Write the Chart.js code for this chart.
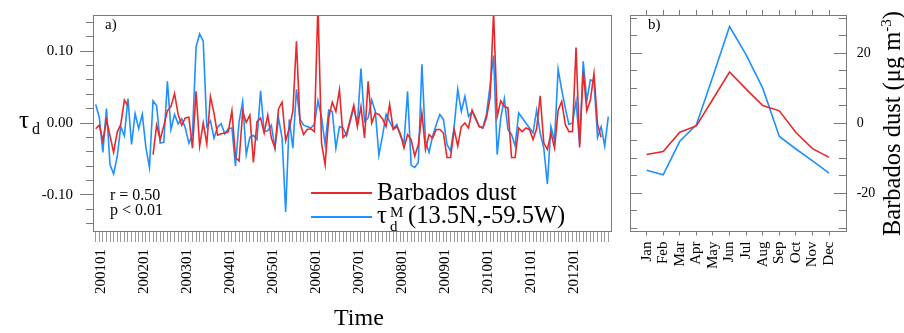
<!DOCTYPE html>
<html>
<head>
<meta charset="utf-8">
<title>Barbados dust vs model dust optical depth</title>
<script src="https://cdn.jsdelivr.net/npm/chart.js@4.4.1/dist/chart.umd.min.js"></script>
<style>
  html, body { margin: 0; padding: 0; background: #fff; }
  #wrap {
    position: relative; width: 904px; height: 333px; overflow: hidden;
    font-family: "Liberation Serif", "Times New Roman", serif; color: #000;
  }
  #wrap canvas { position: absolute; top: 0; }
  .txt { position: absolute; white-space: nowrap; line-height: 1; }
  .swatch { position: absolute; height: 2px; }
</style>
</head>
<body>
<div id="wrap">
  <canvas id="series" width="620" height="333" style="left:0"></canvas>
  <canvas id="clim" width="284" height="333" style="left:620px"></canvas>

  <!-- axis titles -->
  <span class="txt" style="left:19px;top:107px;font-size:25px">τ</span>
  <span class="txt" style="left:32px;top:121px;font-size:16px">d</span>
  <span class="txt" style="left:334px;top:305px;font-size:24px">Time</span>
  <span class="txt" style="left:879px;top:236px;font-size:24.5px;transform-origin:0 0;transform:rotate(-90deg)">Barbados dust (μg m<sup style="font-size:15px;vertical-align:9px">-3</sup>)</span>

  <!-- panel tags and stats -->
  <span class="txt" style="left:105px;top:17px;font-size:15px">a)</span>
  <span class="txt" style="left:648px;top:17px;font-size:15px">b)</span>
  <span class="txt" style="left:110px;top:187px;font-size:16px">r = 0.50</span>
  <span class="txt" style="left:110px;top:202px;font-size:16px">p &lt; 0.01</span>

  <!-- legend -->
  <div class="swatch" style="left:311px;top:192px;width:61px;background:#e8292b"></div>
  <div class="swatch" style="left:311px;top:216px;width:61px;background:#1e90ff"></div>
  <span class="txt" style="left:377px;top:180px;font-size:24.5px">Barbados dust</span>
  <span class="txt" style="left:377px;top:203px;font-size:24.5px">τ</span>
  <span class="txt" style="left:390px;top:205px;font-size:15px">M</span>
  <span class="txt" style="left:390px;top:219px;font-size:15px">d</span>
  <span class="txt" style="left:408px;top:203px;font-size:24.5px">(13.5N,-59.5W)</span>
</div>

<script>
// ── Monthly anomalies 2001-01 .. 2012-12 (index 0 = Jan 2001) ──
const yearTicks = ["200101", "200201", "200301", "200401", "200501", "200601",
                   "200701", "200801", "200901", "201001", "201101", "201201"];

const dustAnom = [
  -0.008, -0.003, -0.025,  0.004, -0.018, -0.041, -0.013, -0.002,  0.032,  0.024,  null,   null,
   null,   null,   null,   null,  -0.044, -0.003, -0.023, -0.004,  0.017,  0.023,  0.041,  0.012,
  -0.003,  0.007,  0.008, -0.035,  0.044, -0.032,  0.000, -0.029,  0.037,  0.014, -0.017, -0.015,
  -0.014, -0.012,  0.017, -0.048, -0.053,  0.016,  0.001,  0.011, -0.055,  0.002,  0.007, -0.014,
   0.011, -0.021, -0.035,  0.020,  0.029, -0.025, -0.007,  0.016,  0.114,  0.000, -0.016, -0.009,
  -0.008, -0.012,  0.165, -0.028, -0.058,  0.007,  0.029,  0.016,  0.046, -0.020, -0.015,  0.005,
   0.025, -0.005,  0.023, -0.021,  0.058,  0.000,  0.014,  0.012,  0.006, -0.005,  0.026, -0.009,
  -0.005, -0.015, -0.035, -0.016, -0.023, -0.046, -0.030,  0.014, -0.037, -0.016, -0.021, -0.009,
  -0.009, -0.014, -0.048, -0.048, -0.009, -0.032, -0.005,  0.000, -0.007,  0.018,  0.007, -0.005,
  -0.007,  0.007,  0.035,  0.155,  0.009,  0.031,  0.023,  0.021, -0.048, -0.048, -0.007, -0.012,
  -0.007, -0.009, -0.023, -0.008,  0.038, -0.028, -0.037, -0.014, -0.035,  0.018,  0.030, -0.002,
  -0.012, -0.012,  0.105, -0.034,  0.072,  0.017,  0.032,  0.069, -0.002, -0.020,  null,   null
];

const modelTau = [
   0.026,  0.008, -0.041,  0.020, -0.058, -0.071, -0.047, -0.005, -0.018,  0.034, -0.030,  0.013,
  -0.008,  0.012, -0.034, -0.062,  0.031,  0.024, -0.028, -0.027,  0.058, -0.009,  0.012, -0.001,
   0.006, -0.007, -0.028, -0.016,  0.106,  0.124,  0.114, -0.005,  0.003, -0.021, -0.006, -0.001,
  -0.015, -0.008, -0.007, -0.060,  0.002,  0.030, -0.044, -0.020, -0.017, -0.023,  0.045, -0.012,
  -0.011, -0.003, -0.035,  0.007, -0.021, -0.124,  0.005, -0.035,  0.047,  0.005, -0.003, -0.005,
  -0.007, -0.002,  0.031,  0.008, -0.030,  0.018,  0.016, -0.035, -0.005, -0.007, -0.018,  0.002,
   0.021, -0.002,  0.076,  0.002,  0.007,  0.032,  0.016, -0.045, -0.018,  0.012,  0.002, -0.008,
  -0.002, -0.018, -0.028,  0.044, -0.059, -0.062, -0.055,  0.082, -0.025, -0.041, -0.018, -0.002,
   0.012,  0.005, -0.030, -0.039, -0.005,  0.047,  0.016,  0.037,  0.009,  0.016,  0.005, -0.005,
  -0.007,  0.012,  0.051,  0.094, -0.044,  0.007,  0.034, -0.009, -0.016, -0.032,  0.014,  0.007,
   0.000, -0.007, -0.014,  0.018, -0.014, -0.035, -0.085, -0.005, -0.025,  0.075,  0.046,  0.021,
  -0.002,  0.000,  0.030, -0.030,  0.086,  0.031,  0.060,  0.058, -0.020, -0.005, -0.032,  0.009
];

// ── Mean annual cycle (µg m-3 scale) ──
const months    = ["Jan", "Feb", "Mar", "Apr", "May", "Jun", "Jul", "Aug", "Sep", "Oct", "Nov", "Dec"];
const dustClim  = [-9.0, -8.1, -2.6, -0.8, 6.9, 14.6, 9.7, 5.0, 3.5, -2.7, -7.3, -9.8];
const modelClim = [-13.5, -14.8, -5.2, -0.5, 13.4, 27.6, 19.5, 10.0, -3.8, -7.4, -10.8, -14.3];

const RED   = "#e8292b";
const BLUE  = "#1e90ff";
const SERIF = "'Liberation Serif', 'Times New Roman', serif";
const FRAME = "#7a7a7a";
const TICK  = "#9a9a9a";

Chart.defaults.font.family = SERIF;
Chart.defaults.color = "#000";

// closed box around the plot area
const framePlugin = {
  id: "frame",
  afterDatasetsDraw(chart) {
    const { ctx, chartArea: a } = chart;
    ctx.save();
    ctx.strokeStyle = FRAME;
    ctx.lineWidth = 1;
    ctx.strokeRect(Math.round(a.left) + 0.5, Math.round(a.top) + 0.5,
                   Math.round(a.right - a.left), Math.round(a.bottom - a.top));
    ctx.restore();
  }
};

// pin an axis box to a fixed size so the plot area lands where it should
function fixed(prop, size) {
  return s => {
    s[prop] = size;
    s.paddingLeft = s.paddingRight = s.paddingTop = s.paddingBottom = 0;
  };
}

const toPoints = arr => arr.map((v, i) => ({ x: i, y: v }));
const line = (data, color) => ({
  data, borderColor: color, borderWidth: 1.6, pointRadius: 0, tension: 0, spanGaps: false
});

// range is nudged off a whole number of steps so ticks land on round values
const TAU_MIN = -0.1505, TAU_MAX = 0.1505;

// ── a) time series ──
new Chart(document.getElementById("series"), {
  type: "line",
  data: { datasets: [line(toPoints(dustAnom), RED), line(toPoints(modelTau), BLUE)] },
  options: {
    responsive: false,
    animation: false,
    events: [],
    layout: { padding: { top: 15, right: 9, left: 0, bottom: 0 } },
    plugins: { legend: { display: false }, tooltip: { enabled: false } },
    scales: {
      x: {
        type: "linear", min: -0.75, max: 143.75,
        border: { display: false },
        grid: { drawOnChartArea: false, tickLength: 11, color: TICK },
        ticks: {
          stepSize: 1, includeBounds: false, autoSkip: false,
          minRotation: 90, maxRotation: 90, padding: 7, labelOffset: 5,
          font: { size: 15 },
          callback: v => (Math.round(v) % 12 === 0 ? yearTicks[Math.round(v) / 12] : "")
        },
        afterFit: fixed("height", 102)
      },
      y: {
        position: "left", weight: 1, min: TAU_MIN, max: TAU_MAX,
        border: { display: false },
        grid: { drawOnChartArea: false, tickLength: 13, color: FRAME },
        ticks: { stepSize: 0.1, includeBounds: false, padding: 7, font: { size: 15 },
                 callback: v => v.toFixed(2) },
        afterFit: fixed("width", 93)
      },
      yMinor: {
        position: "left", weight: 0, min: TAU_MIN, max: TAU_MAX,
        border: { display: false },
        grid: { drawOnChartArea: false, tickLength: 7, color: FRAME },
        ticks: { stepSize: 0.02, includeBounds: false, display: false },
        afterFit: fixed("width", 0)
      }
    }
  },
  plugins: [framePlugin]
});

// ── b) mean annual cycle ──
const climPoints = arr => arr.map((v, i) => ({ x: i + 1, y: v }));
const monthTicksOnly = s => { s.ticks = s.ticks.filter(t => t.value >= 1 && t.value <= 12); };
const CLIM_MIN = -30.7, CLIM_MAX = 30.9;

new Chart(document.getElementById("clim"), {
  type: "line",
  data: { datasets: [line(climPoints(dustClim), RED), line(climPoints(modelClim), BLUE)] },
  options: {
    responsive: false,
    animation: false,
    events: [],
    layout: { padding: 0 },
    plugins: { legend: { display: false }, tooltip: { enabled: false } },
    scales: {
      x: {
        type: "linear", position: "bottom", min: 0, max: 13,
        border: { display: false },
        grid: { drawOnChartArea: false, tickLength: 5, color: FRAME },
        ticks: {
          stepSize: 1, autoSkip: false, minRotation: 90, maxRotation: 90, padding: 6,
          font: { size: 15 }, callback: v => months[Math.round(v) - 1]
        },
        afterBuildTicks: monthTicksOnly,
        afterFit: fixed("height", 102.5)
      },
      xTop: {
        type: "linear", position: "top", min: 0, max: 13,
        border: { display: false },
        grid: { drawOnChartArea: false, tickLength: 5, color: FRAME },
        ticks: { stepSize: 1, display: false },
        afterBuildTicks: monthTicksOnly,
        afterFit: fixed("height", 15)
      },
      yL: {
        position: "left", weight: 1, min: CLIM_MIN, max: CLIM_MAX,
        border: { display: false },
        grid: { drawOnChartArea: false, tickLength: -12, color: FRAME },
        ticks: { stepSize: 20, includeBounds: false, display: false },
        afterFit: fixed("width", 10)
      },
      yLm: {
        position: "left", weight: 0, min: CLIM_MIN, max: CLIM_MAX,
        border: { display: false },
        grid: { drawOnChartArea: false, tickLength: -7, color: FRAME },
        ticks: { stepSize: 5, includeBounds: false, display: false },
        afterFit: fixed("width", 0)
      },
      y: {
        position: "right", weight: 1, min: CLIM_MIN, max: CLIM_MAX,
        border: { display: false },
        grid: { drawOnChartArea: false, tickLength: -12, color: FRAME },
        ticks: { stepSize: 20, includeBounds: false, padding: 23, font: { size: 14 },
                 callback: v => String(Math.round(v)) },
        afterFit: fixed("width", 58.3)
      },
      yRm: {
        position: "right", weight: 0, min: CLIM_MIN, max: CLIM_MAX,
        border: { display: false },
        grid: { drawOnChartArea: false, tickLength: -7, color: FRAME },
        ticks: { stepSize: 5, includeBounds: false, display: false },
        afterFit: fixed("width", 0)
      }
    }
  },
  plugins: [framePlugin]
});
</script>
</body>
</html>
